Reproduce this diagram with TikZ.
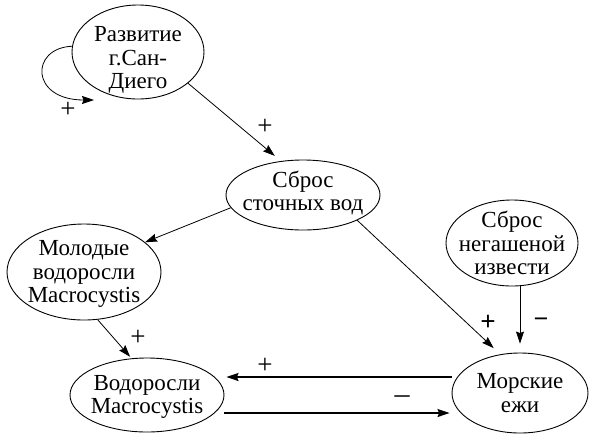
\documentclass[tikz,border=0pt]{standalone}
\usepackage{fontspec}
\setmainfont{Liberation Serif}
\newfontfamily\tms{Liberation Serif}
\usetikzlibrary{shapes.geometric,arrows.meta,calc}
\begin{document}
\begin{tikzpicture}[x=1pt,y=-1pt,
  ell/.style 2 args={ellipse,draw,line width=0.9pt,minimum width=#1,minimum height=#2,inner sep=0pt},
  txt/.style={align=center,font=\tms\fontsize{23}{23.5}\selectfont,inner sep=0pt},
  arr/.style={line width=0.8pt,-{Stealth[length=12pt,width=8pt,inset=1.5pt]}},
  harr/.style={line width=1.4pt,-{Stealth[length=12pt,width=8pt,inset=1.5pt]}},
  sgn/.style={font=\tms\fontsize{27}{27}\selectfont,inner sep=0pt}]
\useasboundingbox (0,0) rectangle (599,440);
\node[ell={132pt}{94pt},label={[txt,yshift=-8pt]center:Развитие\\г.Сан-\\Диего}] (dev) at (138,52) {};
\node[ell={154pt}{70pt},label={[txt,yshift=2pt]center:Сброс\\сточных вод}] (sbros) at (303,195) {};
\node[ell={154pt}{96pt},label={[txt,yshift=-2pt]center:Молодые\\водоросли\\Macrocystis}] (mol) at (84,272) {};
\node[ell={154pt}{74pt},label={[txt,yshift=-2pt]center:Водоросли\\Macrocystis}] (vod) at (147,395) {};
\node[ell={132pt}{86pt},label={[txt,yshift=0pt]center:Сброс\\негашеной\\извести}] (izv) at (512,243) {};
\node[ell={136pt}{80pt},label={[txt,yshift=0pt]center:Морские\\ежи}] (ezhi) at (520,393) {};
\coordinate (loopend) at (94,100);
% connectors
\draw[arr] (dev.175) .. controls (30,48) and (30,100) .. (loopend);
\draw[arr,shorten >=8pt] (dev.-32) -- (sbros.123);
\draw[arr] (sbros.190) -- (mol.26);
\draw[arr,shorten >=9pt] (sbros.-25) -- (ezhi.117);
\draw[arr,shorten >=9pt] (izv.south -| ezhi.north) -- (ezhi.north);
\draw[arr,shorten >=2pt] (mol.-74) -- (vod.113);
\draw[harr,shorten >=2pt] ([yshift=16pt]ezhi.west) -- ([yshift=16pt]ezhi.west -| vod.east);
\draw[harr,shorten >=2pt] ([yshift=-20pt]ezhi.west -| vod.east) -- ([yshift=-20pt]ezhi.west);
% signs
\node[sgn] (s1) at (68,110) {+};
\node[sgn] (s2) at (265,127) {+};
\node[sgn,font=\tms\bfseries\fontsize{27}{27}\selectfont] (s3) at (488,323) {+};
\node[sgn,font=\tms\bfseries\fontsize{26}{26}\selectfont] (s4) at (541,323) {−};
\node[sgn] (s5) at (138,338) {+};
\node[sgn] (s6) at (265,366) {+};
\node[sgn,font=\tms\fontsize{30}{30}\selectfont] (s7) at (402,400) {–};
\end{tikzpicture}
\end{document}
